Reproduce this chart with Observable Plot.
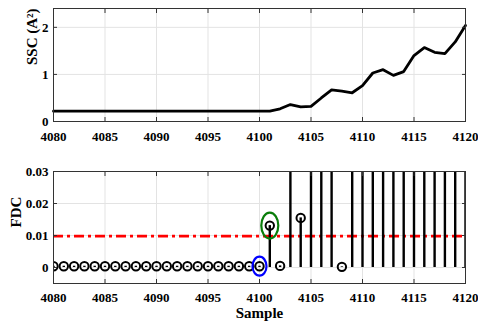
<!DOCTYPE html>
<html><head><meta charset="utf-8">
<script src="https://cdn.jsdelivr.net/npm/d3@7"></script>
<script src="https://cdn.jsdelivr.net/npm/@observablehq/plot@0.6"></script>
<style>body{margin:0;background:#fff} #chart svg{display:block;font-family:"Liberation Serif",serif}</style>
</head><body><div id="chart"></div>
<script>
const samples = [4080,4081,4082,4083,4084,4085,4086,4087,4088,4089,4090,4091,4092,4093,4094,4095,4096,4097,4098,4099,4100,4101,4102,4103,4104,4105,4106,4107,4108,4109,4110,4111,4112,4113,4114,4115,4116,4117,4118,4119,4120];
const ssc = [0.22,0.22,0.22,0.22,0.22,0.22,0.22,0.22,0.22,0.22,0.22,0.22,0.22,0.22,0.22,0.22,0.22,0.22,0.22,0.22,0.22,0.22,
  0.27,0.36,0.31,0.32,0.50,0.67,0.645,0.61,0.76,1.03,1.10,0.98,1.06,1.40,1.57,1.47,1.44,1.69,2.04];
const fdc = [0.0004,0.0004,0.0004,0.0004,0.0004,0.0004,0.0004,0.0004,0.0004,0.0004,0.0004,0.0004,0.0004,0.0004,0.0004,0.0004,0.0004,0.0004,0.0004,0.0004,0.0004,
  0.0131,0.0005,0.05,0.0155,0.05,0.05,0.05,0.0002,0.05,0.05,0.05,0.05,0.05,0.05,0.05,0.05,0.05,0.05,0.05,0.05];
const threshold = 0.0098;
const xTicks = [4080,4085,4090,4095,4100,4105,4110,4115,4120];
const sscTicks = [0,1,2];
const fdcTicks = [0,0.01,0.02,0.03];
const fdcTickLabels = ["0","0.01","0.02","0.03"];
const highlights = [
  {sample: 4100, value: 0.0004, color: "#0000ff", rx: 7, ry: 9.5},
  {sample: 4101, value: 0.0131, color: "#0a7d0a", rx: 8.5, ry: 13}
];

const sscData = samples.map((s,i)=>({sample:s, value:ssc[i]}));
const fdcData = samples.map((s,i)=>({sample:s, value:fdc[i]}));

const FF = "Liberation Serif";
const font = {fontFamily: FF, fontSize: "13px", fontWeight: "bold", color: "#000", background: "#fff", overflow: "visible"};
const gridColor = "#e3e3e3";
const frameColor = "#333";

function ellipseSymbol(rx, ry) {
  return {draw(ctx) {
    const k = 0.5523;
    ctx.moveTo(rx, 0);
    ctx.bezierCurveTo(rx, ry*k, rx*k, ry, 0, ry);
    ctx.bezierCurveTo(-rx*k, ry, -rx, ry*k, -rx, 0);
    ctx.bezierCurveTo(-rx, -ry*k, -rx*k, -ry, 0, -ry);
    ctx.bezierCurveTo(rx*k, -ry, rx, -ry*k, rx, 0);
    ctx.closePath();
  }};
}

function inwardTicks(xt, yt) {
  return [
    Plot.axisX(xt, {anchor: "bottom", tickSize: 4, dy: -4, tickFormat: () => "", stroke: frameColor, label: null}),
    Plot.axisX(xt, {anchor: "top", tickSize: 4, dy: 4, tickFormat: () => "", stroke: frameColor, label: null}),
    Plot.axisY(yt, {anchor: "left", tickSize: 4, dx: 4, tickFormat: () => "", stroke: frameColor, label: null}),
    Plot.axisY(yt, {anchor: "right", tickSize: 4, dx: -4, tickFormat: () => "", stroke: frameColor, label: null})
  ];
}

const topPlot = Plot.plot({
  width: 478, height: 142,
  marginTop: 8, marginBottom: 21, marginLeft: 53, marginRight: 13,
  style: font,
  x: {domain: [4080, 4120]},
  y: {domain: [0, 2.4]},
  marks: [
    Plot.gridX(xTicks, {stroke: gridColor, strokeOpacity: 1}),
    Plot.gridY(sscTicks, {stroke: gridColor, strokeOpacity: 1}),
    Plot.line(sscData, {x: "sample", y: "value", stroke: "#000", strokeWidth: 2.8}),
    ...inwardTicks(xTicks, sscTicks),
    Plot.axisX(xTicks, {anchor: "bottom", tickSize: 0, tickPadding: 10, tickFormat: d => String(d), label: null, fontFamily: FF, fontWeight: "bold", fontSize: 13}),
    Plot.axisY(sscTicks, {anchor: "left", tickSize: 0, tickPadding: 5, label: null, fontFamily: FF, fontWeight: "bold", fontSize: 13}),
    Plot.frame({stroke: frameColor}),
    Plot.text(["SSC (A²)"], {frameAnchor: "left", dx: -21, rotate: -90, fontSize: 15, fontWeight: "bold", fontFamily: FF})
  ]
});

const botPlot = Plot.plot({
  width: 478, height: 182,
  marginTop: 29, marginBottom: 41, marginLeft: 53, marginRight: 13,
  style: font,
  x: {domain: [4080, 4120]},
  y: {domain: [-0.005, 0.03]},
  marks: [
    Plot.gridX(xTicks, {stroke: gridColor, strokeOpacity: 1}),
    Plot.gridY(fdcTicks, {stroke: gridColor, strokeOpacity: 1}),
    Plot.ruleY([threshold], {stroke: "#ff0000", strokeWidth: 2.6, strokeDasharray: "10,4,3,4"}),
    Plot.ruleX(fdcData, {x: "sample", y1: 0, y2: "value", stroke: "#000", strokeWidth: 2.4, clip: true}),
    Plot.dot(fdcData, {x: "sample", y: "value", r: 4.2, stroke: "#000", strokeWidth: 2, fill: "none", clip: true}),
    ...highlights.map(h => Plot.dot([h], {x: "sample", y: "value", symbol: ellipseSymbol(h.rx, h.ry), stroke: h.color, strokeWidth: 2.2, fill: "none"})),
    ...inwardTicks(xTicks, fdcTicks),
    Plot.axisX(xTicks, {anchor: "bottom", tickSize: 0, tickPadding: 9, tickFormat: d => String(d), label: null, fontFamily: FF, fontWeight: "bold", fontSize: 13}),
    Plot.axisY(fdcTicks, {anchor: "left", tickSize: 0, tickPadding: 5, tickFormat: d => fdcTickLabels[fdcTicks.indexOf(d)], label: null, fontFamily: FF, fontWeight: "bold", fontSize: 13}),
    Plot.frame({stroke: frameColor}),
    Plot.text(["FDC"], {frameAnchor: "left", dx: -37, rotate: -90, fontSize: 15, fontWeight: "bold", fontFamily: FF}),
    Plot.text(["Sample"], {frameAnchor: "bottom", dy: 34, fontSize: 15, fontWeight: "bold", fontFamily: FF})
  ]
});

const el = document.getElementById("chart");
el.appendChild(topPlot);
el.appendChild(botPlot);
</script>
</body></html>
